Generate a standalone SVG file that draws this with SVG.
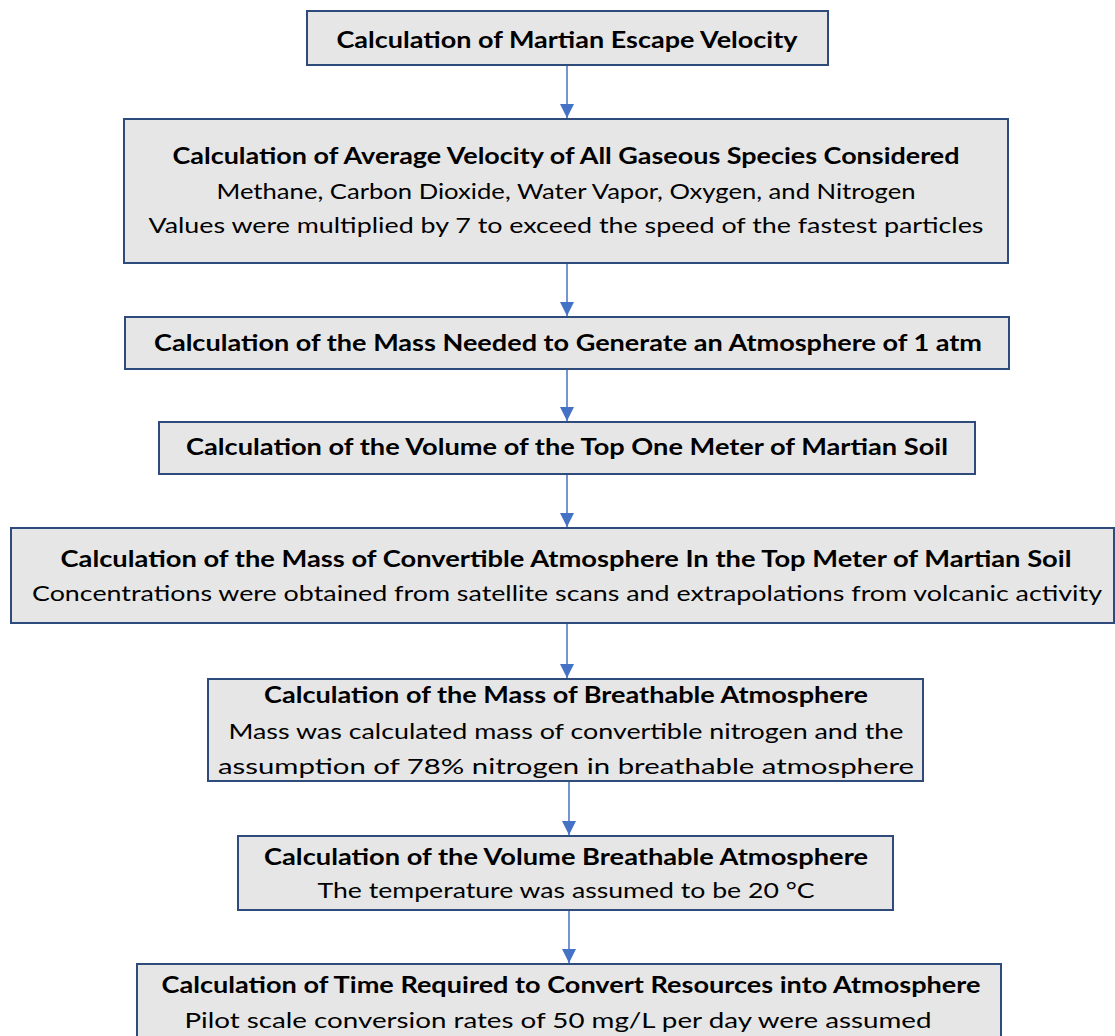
<svg xmlns="http://www.w3.org/2000/svg" width="1115" height="1036" viewBox="0 0 1115 1036">
<style>
.box{fill:#E7E6E6;stroke:#2F4B7C;stroke-width:2}
text{font-family:Lato,"Open Sans","Liberation Sans",sans-serif;font-size:22px;fill:#000;text-anchor:middle}
.b{font-weight:bold}
.c{stroke:#4472C4;stroke-width:1.5;fill:none}
</style>
<defs>
<marker id="ah" markerWidth="10" markerHeight="10" refX="9" refY="5" orient="auto" markerUnits="userSpaceOnUse" viewBox="0 0 10 10">
<path d="M0,0 L10,5 L0,10 z" fill="#4472C4"/>
</marker>
<marker id="a" markerWidth="14" markerHeight="14" refX="14" refY="7" orient="auto" markerUnits="userSpaceOnUse" viewBox="0 0 14 14">
<path d="M0,0 L14,7 L0,14 z" fill="#4472C4"/>
</marker>
</defs>
<rect width="1115" height="1036" fill="#fff"/>
<g id="connectors">
<line class="c" x1="567" y1="66" x2="567" y2="118" marker-end="url(#a)"/>
<line class="c" x1="567" y1="264" x2="567" y2="316" marker-end="url(#a)"/>
<line class="c" x1="567" y1="370" x2="567" y2="421" marker-end="url(#a)"/>
<line class="c" x1="567" y1="475" x2="567" y2="527" marker-end="url(#a)"/>
<line class="c" x1="567" y1="624" x2="567" y2="678" marker-end="url(#a)"/>
<line class="c" x1="569" y1="782" x2="569" y2="835" marker-end="url(#a)"/>
<line class="c" x1="569" y1="911" x2="569" y2="963" marker-end="url(#a)"/>
</g>
<g id="n1">
<rect class="box" x="307" y="11" width="521" height="54"/>
<text class="b" x="567" y="48" textLength="461" lengthAdjust="spacingAndGlyphs">Calculation of Martian Escape Velocity</text>
</g>
<g id="n2">
<rect class="box" x="124" y="119" width="884" height="144"/>
<text class="b" x="566" y="164" textLength="787" lengthAdjust="spacingAndGlyphs">Calculation of Average Velocity of All Gaseous Species Considered</text>
<text x="566" y="199" textLength="699" lengthAdjust="spacingAndGlyphs">Methane, Carbon Dioxide, Water Vapor, Oxygen, and Nitrogen</text>
<text x="566" y="233" textLength="835" lengthAdjust="spacingAndGlyphs">Values were multiplied by 7 to exceed the speed of the fastest particles</text>
</g>
<g id="n3">
<rect class="box" x="125" y="317" width="884" height="52"/>
<text class="b" x="568" y="351" textLength="828" lengthAdjust="spacingAndGlyphs">Calculation of the Mass Needed to Generate an Atmosphere of 1 atm</text>
</g>
<g id="n4">
<rect class="box" x="159" y="422" width="816" height="52"/>
<text class="b" x="567" y="455" textLength="762" lengthAdjust="spacingAndGlyphs">Calculation of the Volume of the Top One Meter of Martian Soil</text>
</g>
<g id="n5">
<rect class="box" x="11" y="528" width="1103" height="95"/>
<text class="b" x="566" y="567" textLength="1011" lengthAdjust="spacingAndGlyphs">Calculation of  the Mass of Convertible Atmosphere In the Top Meter of Martian Soil</text>
<text x="567" y="601" textLength="1070" lengthAdjust="spacingAndGlyphs">Concentrations were obtained from satellite scans and extrapolations from volcanic activity</text>
</g>
<g id="n6">
<rect class="box" x="208" y="679" width="715" height="102"/>
<text class="b" x="566" y="703" textLength="604" lengthAdjust="spacingAndGlyphs">Calculation of the Mass of Breathable Atmosphere</text>
<text x="566" y="739" textLength="675" lengthAdjust="spacingAndGlyphs">Mass was calculated mass of convertible nitrogen and the</text>
<text x="566" y="774" textLength="696" lengthAdjust="spacingAndGlyphs">assumption of 78% nitrogen in breathable atmosphere</text>
</g>
<g id="n7">
<rect class="box" x="238" y="836" width="655" height="74"/>
<text class="b" x="566" y="865" textLength="604" lengthAdjust="spacingAndGlyphs">Calculation of the Volume Breathable Atmosphere</text>
<text x="566" y="898" textLength="497" lengthAdjust="spacingAndGlyphs">The temperature was assumed to be 20 °C</text>
</g>
<g id="n8">
<rect class="box" x="137" y="964" width="864" height="80"/>
<text class="b" x="571" y="993" textLength="819" lengthAdjust="spacingAndGlyphs">Calculation of Time Required to Convert Resources into Atmosphere</text>
<text x="558" y="1028" textLength="747" lengthAdjust="spacingAndGlyphs">Pilot scale conversion rates of 50 mg/L per day were assumed</text>
</g>
</svg>
